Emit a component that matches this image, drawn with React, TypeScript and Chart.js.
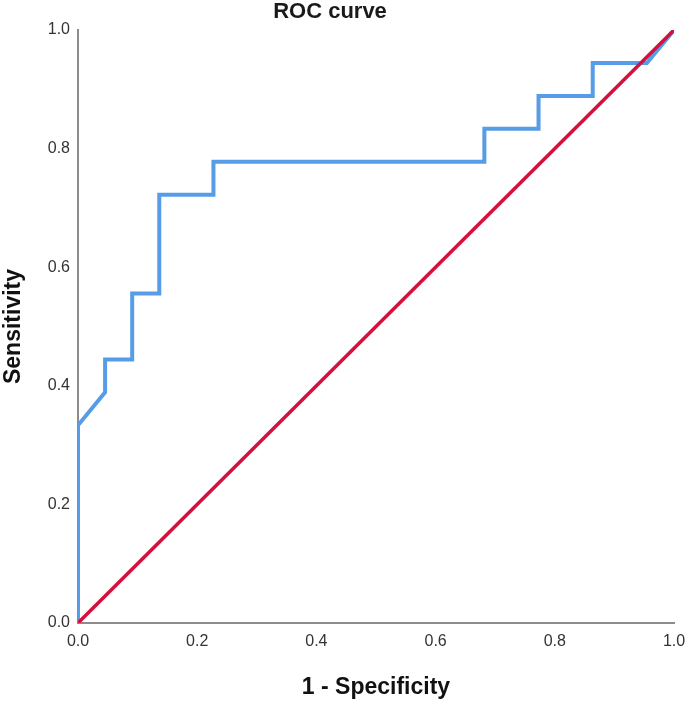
import React, { useEffect, useRef } from "react";
import { Chart, registerables } from "chart.js";

Chart.register(...registerables);

// ROC curve points (1 - specificity, sensitivity)
const fprValues = [0, 0, 1 / 22, 1 / 22, 2 / 22, 2 / 22, 3 / 22, 3 / 22, 5 / 22, 5 / 22, 15 / 22, 15 / 22, 17 / 22, 17 / 22, 19 / 22, 19 / 22, 21 / 22, 1];
const tprValues = [0, 6 / 18, 7 / 18, 8 / 18, 8 / 18, 10 / 18, 10 / 18, 13 / 18, 13 / 18, 14 / 18, 14 / 18, 15 / 18, 15 / 18, 16 / 18, 16 / 18, 17 / 18, 17 / 18, 1];
// Reference line
const refX = [0, 1];
const refY = [0, 1];
const tickValues = [0, 0.2, 0.4, 0.6, 0.8, 1.0];

const TITLE = "ROC curve";
const X_TITLE = "1 - Specificity";
const Y_TITLE = "Sensitivity";
const FONT = "Liberation Sans, Arial, sans-serif";

const titlePlugin = {
  id: "offsetTitle",
  afterDraw(chart: any) {
    const ctx = chart.ctx;
    ctx.save();
    ctx.font = `bold 22px ${FONT}`;
    ctx.fillStyle = "#1a1a1a";
    ctx.textAlign = "center";
    ctx.textBaseline = "middle";
    ctx.fillText(TITLE, 330, 12);
    ctx.restore();
  },
};

export default function App() {
  const canvasRef = useRef<HTMLCanvasElement | null>(null);

  useEffect(() => {
    const canvas = canvasRef.current;
    if (!canvas) return;
    const roc = fprValues.map((x, i) => ({ x, y: tprValues[i] }));
    const ref = refX.map((x, i) => ({ x, y: refY[i] }));
    const chart = new Chart(canvas, {
      type: "scatter",
      data: {
        datasets: [
          {
            data: ref,
            showLine: true,
            borderColor: "rgb(214,16,60)",
            borderWidth: 3.5,
            pointRadius: 0,
            fill: false,
            order: 1,
          },
          {
            data: roc,
            showLine: true,
            borderColor: "rgb(86,156,230)",
            borderWidth: 4,
            pointRadius: 0,
            fill: false,
            clip: 0,
            order: 2,
          } as any,
        ],
      },
      plugins: [titlePlugin],
      options: {
        animation: false,
        responsive: false,
        maintainAspectRatio: false,
        layout: { padding: 0 },
        plugins: {
          legend: { display: false },
          tooltip: { enabled: false },
          title: {
            display: true,
            text: TITLE,
            color: "rgba(0,0,0,0)",
            font: { family: FONT, size: 16, weight: "bold" },
            padding: { top: 2, bottom: 8.8 },
          },
        },
        scales: {
          x: {
            type: "linear",
            min: 0,
            max: 1,
            afterBuildTicks: (s: any) => {
              s.ticks = tickValues.map((v) => ({ value: v }));
            },
            afterFit: (s: any) => {
              s.height = 78;
              s.paddingRight = 11;
            },
            grid: { display: false, drawTicks: false },
            border: { display: true, color: "#8c8c8c", width: 2 },
            ticks: {
              color: "#333",
              padding: 9,
              font: { family: FONT, size: 16 },
              callback: (v: any) => Number(v).toFixed(1),
              maxRotation: 0,
            },
            title: {
              display: true,
              text: X_TITLE,
              color: "#111",
              font: { family: FONT, size: 23, weight: "bold" },
              padding: { top: 10, bottom: 0 },
            },
          },
          y: {
            type: "linear",
            min: 0,
            max: 1,
            afterBuildTicks: (s: any) => {
              s.ticks = tickValues.map((v) => ({ value: v }));
            },
            afterFit: (s: any) => {
              s.width = 78;
            },
            grid: { display: false, drawTicks: false },
            border: { display: true, color: "#8c8c8c", width: 2 },
            ticks: {
              color: "#333",
              padding: 8,
              font: { family: FONT, size: 16 },
              callback: (v: any) => Number(v).toFixed(1),
            },
            title: {
              display: true,
              text: Y_TITLE,
              color: "#111",
              font: { family: FONT, size: 23, weight: "bold" },
              padding: { top: 0, bottom: 6 },
            },
          },
        },
      },
    });
    return () => chart.destroy();
  }, []);

  return (
    <div style={{ position: "fixed", left: 0, top: 0, width: 685, height: 701, background: "#fff" }}>
      <canvas ref={canvasRef} width={685} height={701} style={{ width: 685, height: 701, display: "block" }} />
    </div>
  );
}
